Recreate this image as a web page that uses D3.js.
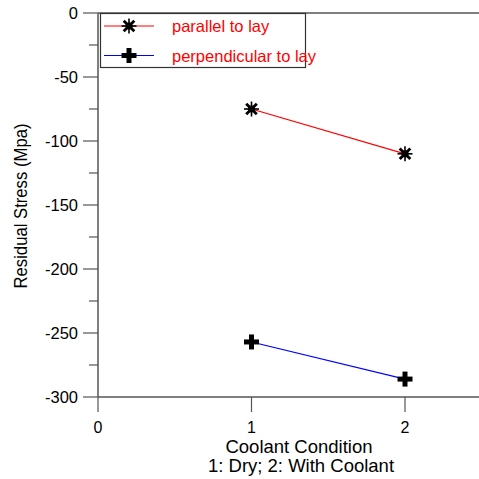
<!doctype html>
<html>
<head>
<script src="https://cdnjs.cloudflare.com/ajax/libs/d3/7.8.5/d3.min.js"></script>
<style>
  body { margin: 0; background: #fff; }
  text { font-family: "Liberation Sans", Arial, sans-serif; }
</style>
</head>
<body>
<svg id="chart" width="479" height="479"></svg>
<script>
// data
var conditions = [1, 2];
var parallel = [-75, -110];
var perpendicular = [-257, -286];
var seriesNames = ["parallel to lay", "perpendicular to lay"];
var yTicks = [0, -50, -100, -150, -200, -250, -300];
var xTicks = [0, 1, 2];

var svg = d3.select("#chart");
var axisColor = "#555";

var x = d3.scaleLinear().domain([0, 2.5]).range([98, 481.75]);
var y = d3.scaleLinear().domain([0, -300]).range([13, 397]);

// frame lines
svg.append("line").attr("x1", 98).attr("x2", 479).attr("y1", y(0)).attr("y2", y(0))
  .attr("stroke", axisColor).attr("stroke-width", 1.5);
svg.append("line").attr("x1", 98).attr("x2", 479).attr("y1", y(-300)).attr("y2", y(-300))
  .attr("stroke", axisColor).attr("stroke-width", 1.5);
svg.append("line").attr("x1", 98).attr("x2", 98).attr("y1", y(0)).attr("y2", y(-300))
  .attr("stroke", axisColor).attr("stroke-width", 1.5);

// y ticks
var minor = d3.range(-25, -300, -50);
svg.selectAll(".ymaj").data(yTicks).enter().append("line")
  .attr("x1", 83).attr("x2", 98).attr("y1", d => y(d)).attr("y2", d => y(d))
  .attr("stroke", axisColor).attr("stroke-width", 1.2);
svg.selectAll(".ymin").data(minor).enter().append("line")
  .attr("x1", 89).attr("x2", 98).attr("y1", d => y(d)).attr("y2", d => y(d))
  .attr("stroke", axisColor).attr("stroke-width", 1.2);
svg.selectAll(".ylab").data(yTicks).enter().append("text")
  .attr("x", 78).attr("y", d => y(d) + 6)
  .attr("text-anchor", "end").attr("font-size", "16.5px")
  .text(d => d);

// x ticks
svg.selectAll(".xt").data(xTicks).enter().append("line")
  .attr("x1", d => x(d)).attr("x2", d => x(d)).attr("y1", 397).attr("y2", 412)
  .attr("stroke", axisColor).attr("stroke-width", 1.2);
svg.selectAll(".xlab").data(xTicks).enter().append("text")
  .attr("x", d => x(d)).attr("y", 433)
  .attr("text-anchor", "middle").attr("font-size", "16px")
  .text(d => d);

svg.append("text").attr("x", 299).attr("y", 453).attr("text-anchor", "middle")
  .attr("font-size", "18.5px").text("Coolant Condition");
svg.append("text").attr("x", 301).attr("y", 472).attr("text-anchor", "middle")
  .attr("font-size", "18.5px").text("1: Dry; 2: With Coolant");

svg.append("text").attr("transform", "translate(27,206) rotate(-90)")
  .attr("text-anchor", "middle").attr("font-size", "18.5px")
  .attr("textLength", 165).attr("lengthAdjust", "spacingAndGlyphs")
  .text("Residual Stress (Mpa)");

// markers
function star(g, cx, cy) {
  var r = 7.5;
  [0, 45, 90, 135].forEach(function (a) {
    var rad = a * Math.PI / 180;
    g.append("line")
      .attr("x1", cx - r * Math.cos(rad)).attr("y1", cy - r * Math.sin(rad))
      .attr("x2", cx + r * Math.cos(rad)).attr("y2", cy + r * Math.sin(rad))
      .attr("stroke", "#000").attr("stroke-width", a % 90 == 0 ? 1.6 : 2.8);
  });
  g.append("circle").attr("cx", cx).attr("cy", cy).attr("r", 3.6).attr("fill", "#000");
}
function plus(g, cx, cy) {
  var r = 7.5;
  g.append("line").attr("x1", cx - r).attr("x2", cx + r).attr("y1", cy).attr("y2", cy)
    .attr("stroke", "#000").attr("stroke-width", 5);
  g.append("line").attr("x1", cx).attr("x2", cx).attr("y1", cy - r).attr("y2", cy + r)
    .attr("stroke", "#000").attr("stroke-width", 5);
}

var line = d3.line().x(d => x(d[0])).y(d => y(d[1]));
var series = [
  { name: seriesNames[0], vals: parallel, color: "red", mark: star },
  { name: seriesNames[1], vals: perpendicular, color: "blue", mark: plus }
];

series.forEach(function (s) {
  var pts = conditions.map((c, i) => [c, s.vals[i]]);
  svg.append("path").attr("d", line(pts)).attr("fill", "none")
    .attr("stroke", s.color).attr("stroke-width", 1.2);
  var g = svg.append("g");
  pts.forEach(p => s.mark(g, x(p[0]), y(p[1])));
});

// legend
svg.append("rect").attr("x", 100.5).attr("y", 13.5).attr("width", 205).attr("height", 54)
  .attr("fill", "#fff").attr("stroke", "#333").attr("stroke-width", 1.2);
series.forEach(function (s, i) {
  var ly = 26 + i * 29.5;
  svg.append("line").attr("x1", 104).attr("x2", 154).attr("y1", ly).attr("y2", ly)
    .attr("stroke", s.color).attr("stroke-width", 1.2);
  s.mark(svg.append("g"), 129, ly);
  svg.append("text").attr("x", 172).attr("y", ly + 6).attr("fill", "red")
    .attr("font-size", "16.5px").text(s.name);
});
</script>
</body>
</html>
